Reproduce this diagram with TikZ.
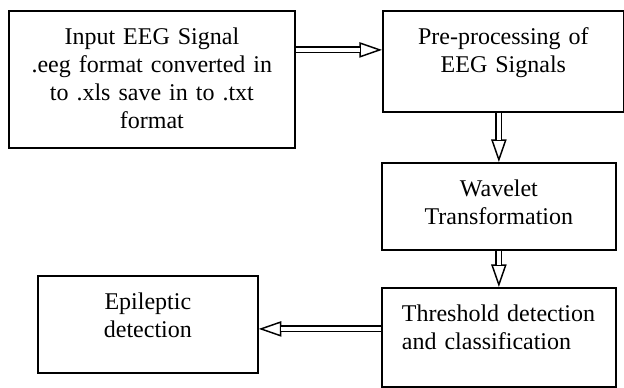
\documentclass[tikz,border=0pt]{standalone}
\usepackage{fontspec}
\setmainfont{Liberation Serif}
\usetikzlibrary{arrows.meta}
\tikzset{
  stage/.style={draw, line width=1.3pt, anchor=north west, align=center,
    inner xsep=4pt, inner ysep=12pt, text height=13pt,
    font=\fontsize{18}{21}\selectfont},
  flow/.style={line width=1.1pt, -{Triangle[open, length=17pt, width=11.5pt]},
    postaction={draw, -, double, double distance=3pt, shorten >=16.4pt}}
}
\begin{document}
\begin{tikzpicture}[x=0.75pt, y=-0.75pt]
    \useasboundingbox (0,0) rectangle (624,387);
    \node[stage, text width=206.5pt, text depth=65.75pt] (input) at (8,10)
        {Input EEG Signal\\ .eeg format converted in\\ to .xls save in to .txt\\ format};
    \node[stage, text width=172.75pt, text depth=38.75pt] (prep) at (382,10)
        {Pre-processing of\\ EEG Signals};
    \node[stage, text width=167.5pt, text depth=28.25pt] (wave) at (381,162)
        {Wavelet\\ Transformation};
    \node[stage, align=left, inner xsep=15pt, text width=145.5pt, text depth=37.25pt] (thresh) at (381,287)
        {Threshold detection\\ and classification};
    \node[stage, text width=157pt, text depth=35.75pt] (epi) at (37,275)
        {Epileptic\\ detection};
    \coordinate (inA) at ([yshift=8.6pt]prep.west);
    \coordinate (outB) at ([yshift=-3.4pt]epi.east);
    \draw[flow] (input.east |- inA) -- (inA);
    \draw[flow] (prep.south -| wave.north) -- (wave.north);
    \draw[flow] (wave.south) -- (thresh.north);
    \draw[flow] (thresh.west |- outB) -- (outB);
\end{tikzpicture}
\end{document}
